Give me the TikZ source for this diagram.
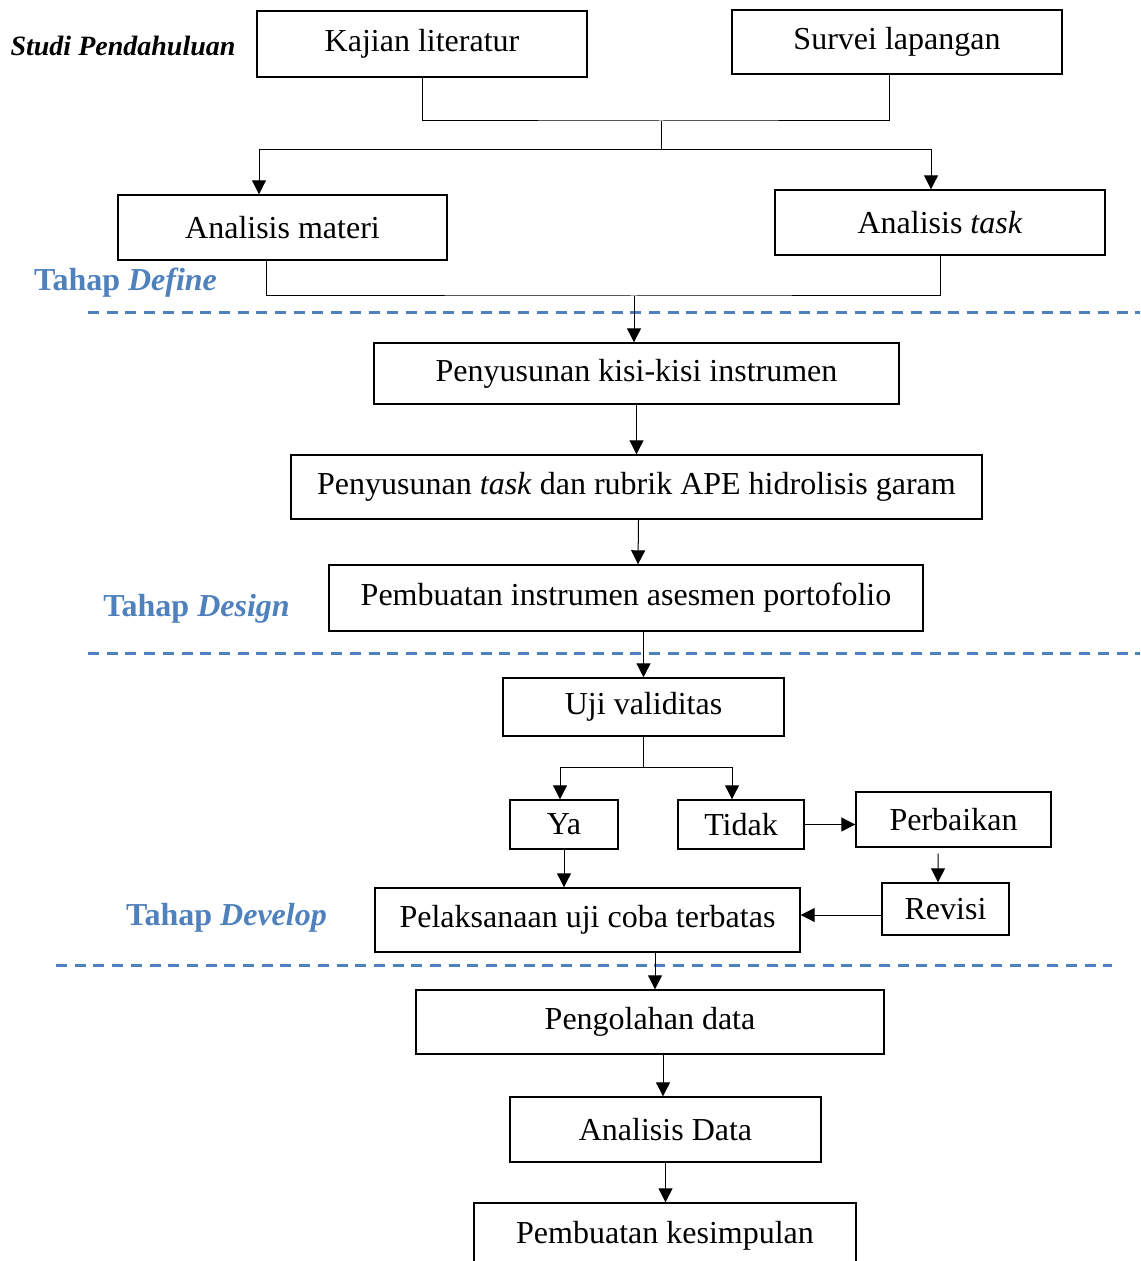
\documentclass[tikz,border=0pt]{standalone}
\usepackage{fontspec}
\setmainfont{Liberation Serif}
\usepackage{xcolor}
\usetikzlibrary{arrows.meta,positioning,calc}
\definecolor{tahapblue}{HTML}{4F81BD}

\begin{document}
\begin{tikzpicture}[x=0.5pt, y=-0.5pt, >={Triangle[length=7pt,width=7pt]}, font=\fontsize{16}{19}\selectfont]
  \tikzset{blk/.style={draw, line width=0.7pt, inner sep=2pt, align=center},
           lbl/.style={text=tahapblue, font=\fontsize{16}{19}\selectfont\bfseries},
           sep/.style={tahapblue, line width=1.5pt, dash pattern=on 5.5pt off 3.85pt},
           lnk/.style={line width=0.5pt}}
  \useasboundingbox (0,0) rectangle (1140,1261);
  % studi pendahuluan
  \node[font=\fontsize{14}{17}\selectfont\bfseries\itshape] (studi) at (123,46) {Studi Pendahuluan};
  \node[blk, minimum width=165pt, minimum height=33pt] (kajian) at (422,44) {Kajian literatur};
  \node[blk, minimum width=165pt, minimum height=32pt] (survei) at (897,42) {Survei lapangan};
  \coordinate (join1) at (661,121);
  \coordinate (split1) at (661,150);
  \draw[lnk] (kajian.south) |- (join1) -| ([xshift=-4pt]survei.south);
  \draw[lnk] (join1) -- (split1);
  % tahap define
  \node[blk, minimum width=164.5pt, minimum height=32.5pt] (materi) at (282.5,227.5) {Analisis materi};
  \node[blk, minimum width=165pt, minimum height=32.5pt] (task) at (940,222.5) {Analisis \textit{task}};
  \draw[lnk, ->] (split1) -| ([xshift=-11.75pt]materi.north);
  \draw[lnk, ->] (split1) -| ([xshift=-4.5pt]task.north);
  \coordinate (join2) at (634,296);
  \draw[lnk] ([xshift=-8.25pt]materi.south) |- (join2) -| (task.south);
  \node[lbl] (define) at (125.5,283) {Tahap \textit{Define}};
  \draw[sep] (88,313) -- (1140,313);
  % tahap design
  \node[blk, minimum width=262.5pt, minimum height=30.5pt] (kisi) at (636.5,373.5) {Penyusunan kisi-kisi instrumen};
  \node[blk, minimum width=345.5pt, minimum height=32pt, below=24.8pt of kisi] (rubrik) {Penyusunan \textit{task} dan rubrik APE hidrolisis garam};
  \node[blk, minimum width=297pt, minimum height=33pt] (buat) at (626,598) {Pembuatan instrumen asesmen portofolio};
  \draw[lnk, ->] (join2) -- (join2 |- kisi.north);
  \draw[lnk, ->] (kisi) -- (rubrik);
  \draw[lnk, ->] ([xshift=1pt]rubrik.south) -- ([xshift=6pt]buat.north);
  \node[lbl] (design) at (196.5,609) {Tahap \textit{Design}};
  \draw[sep] (88,653) -- (1140,653);
  % tahap develop
  \node[blk, minimum width=140.5pt, minimum height=29pt] (uji) at (643.5,707) {Uji validitas};
  \node[blk, minimum width=54pt, minimum height=24.5pt] (ya) at (564,824.5) {Ya};
  \node[blk, minimum width=63pt, minimum height=24.5pt, right=29.3pt of ya] (tidak) {Tidak};
  \node[blk, minimum width=97.5pt, minimum height=27.5pt, right=25.3pt of tidak, yshift=2.5pt] (perbaikan) {Perbaikan};
  \node[blk, minimum width=63.5pt, minimum height=26pt] (revisi) at (945.5,909) {Revisi};
  \node[blk, minimum width=212.5pt, minimum height=32pt] (laksana) at (587.5,920) {Pelaksanaan uji coba terbatas};
  \draw[lnk, ->] (buat.south -| uji.north) -- (uji.north);
  \coordinate (split2) at (642,767);
  \draw[lnk] (uji.south) -- (uji.south |- split2);
  \draw[lnk, ->] (uji.south |- split2) -| ([xshift=-2pt]ya.north);
  \draw[lnk, ->] (uji.south |- split2) -| ([xshift=-4.5pt]tidak.north);
  \draw[lnk, ->] (tidak.east) -- (perbaikan.west |- tidak.east);
  \draw[lnk, ->] ([xshift=-7.75pt,yshift=-3pt]perbaikan.south) -- ([xshift=-3.75pt]revisi.north);
  \draw[lnk, ->] ($(revisi.west)+(0,6)$) -- (laksana.east |- {$(revisi.west)+(0,6)$});
  \draw[lnk, ->] (ya.south) -- (ya.south |- laksana.north);
  \node[lbl] (develop) at (226.5,918) {Tahap \textit{Develop}};
  \draw[sep] (56,965) -- (1112,965);
  % pengolahan
  \node[blk, minimum width=234pt, minimum height=32pt] (olah) at (650,1022) {Pengolahan data};
  \node[blk, minimum width=155.5pt, minimum height=32.5pt] (data) at (665.5,1129.5) {Analisis Data};
  \node[blk, minimum width=191pt, minimum height=32.5pt] (simpul) at (665,1235.5) {Pembuatan kesimpulan};
  \draw[lnk, ->] (laksana.south -| {$(olah.north)+(5,0)$}) -- ($(olah.north)+(5,0)$);
  \draw[lnk, ->] ([xshift=6.5pt]olah.south) -- ([xshift=-1.25pt]data.north);
  \draw[lnk, ->] (data.south) -- (data.south |- simpul.north);
\end{tikzpicture}
\end{document}
